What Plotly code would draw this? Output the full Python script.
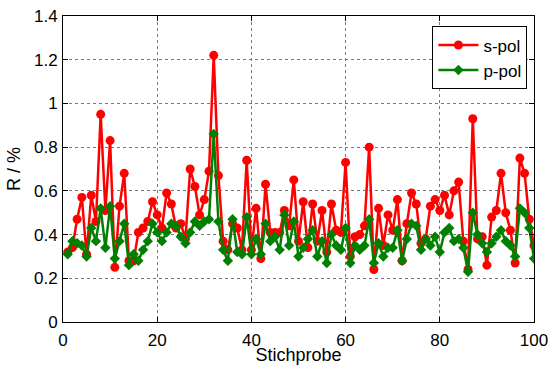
import plotly.graph_objects as go

sample = list(range(1, 101))

s_pol = [0.32, 0.34, 0.47, 0.57, 0.31, 0.58, 0.46, 0.95, 0.51, 0.83,
         0.25, 0.53, 0.68, 0.28, 0.28, 0.41, 0.43, 0.46, 0.55, 0.49,
         0.43, 0.59, 0.54, 0.43, 0.45, 0.38, 0.70, 0.62, 0.49, 0.56,
         0.69, 1.22, 0.67, 0.37, 0.33, 0.45, 0.43, 0.33, 0.74, 0.33,
         0.52, 0.29, 0.63, 0.41, 0.41, 0.41, 0.51, 0.44, 0.65, 0.37,
         0.55, 0.34, 0.54, 0.37, 0.51, 0.32, 0.54, 0.42, 0.41, 0.73,
         0.30, 0.39, 0.40, 0.44, 0.80, 0.24, 0.52, 0.35, 0.49, 0.42,
         0.56, 0.28, 0.45, 0.59, 0.54, 0.36, 0.38, 0.53, 0.56, 0.51,
         0.58, 0.49, 0.60, 0.64, 0.37, 0.24, 0.93, 0.38, 0.39, 0.26,
         0.48, 0.51, 0.68, 0.50, 0.42, 0.27, 0.75, 0.68, 0.47, 0.35]

p_pol = [0.31, 0.37, 0.36, 0.35, 0.30, 0.43, 0.37, 0.52, 0.34, 0.53,
         0.29, 0.37, 0.45, 0.26, 0.31, 0.28, 0.33, 0.37, 0.45, 0.41,
         0.37, 0.41, 0.45, 0.44, 0.39, 0.36, 0.41, 0.46, 0.44, 0.46,
         0.47, 0.86, 0.46, 0.33, 0.28, 0.47, 0.32, 0.31, 0.48, 0.31,
         0.38, 0.31, 0.45, 0.37, 0.39, 0.33, 0.49, 0.35, 0.46, 0.30,
         0.34, 0.38, 0.42, 0.30, 0.37, 0.27, 0.40, 0.35, 0.33, 0.43,
         0.27, 0.35, 0.33, 0.35, 0.47, 0.27, 0.36, 0.30, 0.34, 0.34,
         0.42, 0.28, 0.38, 0.45, 0.44, 0.33, 0.38, 0.35, 0.39, 0.32,
         0.41, 0.43, 0.37, 0.38, 0.34, 0.23, 0.50, 0.40, 0.36, 0.32,
         0.36, 0.39, 0.42, 0.37, 0.35, 0.30, 0.52, 0.50, 0.43, 0.29]

x_ticks = [0, 20, 40, 60, 80, 100]
y_ticks = [0, 0.2, 0.4, 0.6, 0.8, 1.0, 1.2, 1.4]
y_tick_text = ["0", "0.2", "0.4", "0.6", "0.8", "1", "1.2", "1.4"]

FONT = "Liberation Sans, Arial"

fig = go.Figure()
fig.add_trace(go.Scatter(
    x=sample, y=s_pol, name="s-pol", mode="lines+markers",
    line=dict(color="#ff0000", width=2.5),
    marker=dict(symbol="circle", size=9, color="#ff0000"),
))
fig.add_trace(go.Scatter(
    x=sample, y=p_pol, name="p-pol", mode="lines+markers",
    line=dict(color="#008000", width=2.5),
    marker=dict(symbol="diamond", size=8, color="#008000"),
))

axis_common = dict(
    showline=True, linecolor="black", linewidth=1, mirror="ticks",
    ticks="inside", ticklen=5, tickcolor="black",
    showgrid=True, gridcolor="#777777", gridwidth=1, griddash="dot",
    zeroline=False, automargin=False,
    tickfont=dict(family=FONT, size=17, color="black"),
)

fig.update_xaxes(range=[0, 100], tickvals=x_ticks, ticklabelstandoff=3,
                 title=dict(text="Stichprobe", standoff=0,
                            font=dict(family=FONT, size=18, color="black")),
                 **axis_common)
fig.update_yaxes(range=[0, 1.4], tickvals=y_ticks, ticktext=y_tick_text,
                 ticklabelstandoff=1,
                 title=dict(text="R / %", standoff=8,
                            font=dict(family=FONT, size=18, color="black")),
                 **axis_common)

fig.update_layout(
    width=552, height=365,
    margin=dict(l=63, r=18, t=16, b=43, autoexpand=False),
    paper_bgcolor="white", plot_bgcolor="white",
    font=dict(family=FONT, size=17, color="black"),
    showlegend=True,
    legend=dict(x=0.986, y=0.966, xanchor="right", yanchor="top",
                bordercolor="black", borderwidth=1, bgcolor="white",
                font=dict(size=17), tracegroupgap=0, itemwidth=40),
)

fig.write_html("out.html")
